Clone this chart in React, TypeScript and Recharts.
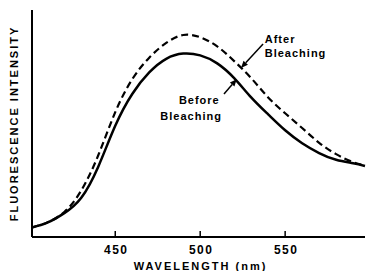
import React from 'react';
import { LineChart, Line, XAxis, YAxis, ReferenceLine, ReferenceDot, Label } from 'recharts';

// wavelength (nm) and relative fluorescence intensity
const wavelengths = [401, 410, 420, 430, 440, 450, 460, 470, 480, 490, 500, 510, 520, 530, 540, 550, 560, 570, 580, 590, 597];
const beforeBleaching = [4.2, 6.3, 10.5, 17.3, 31, 49, 63, 72.5, 78.5, 80.8, 80, 76.5, 70, 61.5, 54, 47, 41.3, 37, 34, 32.5, 31.3];
const afterBleaching = [4.2, 6.4, 11, 20.5, 36, 55, 69.5, 79, 85.5, 89, 88, 84, 77.5, 70, 61.5, 54.5, 48, 41.5, 36.5, 33, 31.5];
const xTicks = [450, 500, 550];

const FONT = '"Liberation Sans", Arial, sans-serif';

const data = wavelengths.map((w, i) => ({
  wavelength: w,
  before: beforeBleaching[i],
  after: afterBleaching[i]
}));

const Arrow = (props: any) => {
  const { x1, y1, x2, y2 } = props;
  const ang = Math.atan2(y2 - y1, x2 - x1);
  const len = 7;
  const w = 3;
  const bx = x2 - len * Math.cos(ang);
  const by = y2 - len * Math.sin(ang);
  const px = -Math.sin(ang) * w;
  const py = Math.cos(ang) * w;
  return (
    <g>
      <line x1={x1} y1={y1} x2={bx} y2={by} stroke="#000" strokeWidth={1.5} />
      <polygon points={`${x2},${y2} ${bx + px},${by + py} ${bx - px},${by - py}`} fill="#000" />
    </g>
  );
};

const noteText = (value: string, anchor: 'start' | 'end') => (props: any) => (
  <text
    x={props.cx}
    y={props.cy}
    textAnchor={anchor}
    fontFamily={FONT}
    fontWeight="bold"
    fontSize={11}
    letterSpacing={1}
    fill="#000"
  >
    {value}
  </text>
);

const XTick = (props: any) => {
  const { x, y, payload } = props;
  return (
    <text
      x={x + 1}
      y={y + 9}
      textAnchor="middle"
      fontFamily={FONT}
      fontWeight="bold"
      fontSize={12}
      letterSpacing={1.5}
      fill="#000"
    >
      {payload.value}
    </text>
  );
};

const YTitle = (props: any) => {
  const vb = props.viewBox;
  const cx = vb.x + vb.width / 2 - 2;
  const cy = vb.y + vb.height / 2;
  return (
    <text
      x={cx}
      y={cy}
      transform={`rotate(-90, ${cx}, ${cy})`}
      textAnchor="middle"
      dominantBaseline="central"
      fontFamily={FONT}
      fontWeight="bold"
      fontSize={11}
      letterSpacing={2}
      fill="#000"
    >
      FLUORESCENCE INTENSITY
    </text>
  );
};

const XTitle = (props: any) => {
  const vb = props.viewBox;
  return (
    <text
      x={vb.x + vb.width / 2 + 2}
      y={vb.y + vb.height - 1}
      textAnchor="middle"
      fontFamily={FONT}
      fontWeight="bold"
      fontSize={11}
      letterSpacing={2}
      fill="#000"
    >
      WAVELENGTH (nm)
    </text>
  );
};

const App = () => {
  return (
    <div style={{ position: 'absolute', left: 0, top: 0, background: '#fff' }}>
      <LineChart width={366} height={271} data={data} margin={{ top: 10, right: 1, left: 0, bottom: 0 }}>
        <XAxis
          dataKey="wavelength"
          type="number"
          domain={[401, 597]}
          ticks={xTicks}
          height={34}
          tickSize={-6}
          tickMargin={14}
          axisLine={{ stroke: '#000', strokeWidth: 2 }}
          tickLine={{ stroke: '#000', strokeWidth: 1.5 }}
          tick={<XTick />}
        >
          <Label content={<XTitle />} />
        </XAxis>
        <XAxis
          xAxisId="top"
          orientation="top"
          type="number"
          domain={[401, 597]}
          ticks={xTicks}
          height={0}
          tickSize={-6}
          tickFormatter={() => ''}
          axisLine={{ stroke: '#000', strokeWidth: 1.5 }}
          tickLine={{ stroke: '#000', strokeWidth: 1.5 }}
        />
        <YAxis
          type="number"
          domain={[0, 100]}
          width={32}
          tick={false}
          axisLine={{ stroke: '#000', strokeWidth: 2 }}
        >
          <Label content={<YTitle />} />
        </YAxis>
        <YAxis
          yAxisId="right"
          orientation="right"
          type="number"
          domain={[0, 100]}
          width={0}
          tick={false}
          axisLine={{ stroke: '#000', strokeWidth: 1.5 }}
        />
        <Line
          type="natural"
          dataKey="after"
          stroke="#000"
          strokeWidth={2.2}
          strokeDasharray="7 4"
          dot={false}
          isAnimationActive={false}
        />
        <Line
          type="natural"
          dataKey="before"
          stroke="#000"
          strokeWidth={2.5}
          dot={false}
          isAnimationActive={false}
        />
        <ReferenceLine segment={[{ x: 537, y: 85 }, { x: 524, y: 74.5 }]} shape={Arrow} />
        <ReferenceLine segment={[{ x: 514, y: 63 }, { x: 521.5, y: 69.5 }]} shape={Arrow} />
        <ReferenceDot x={538} y={85.5} r={1} shape={noteText('After', 'start')} />
        <ReferenceDot x={538} y={79.3} r={1} shape={noteText('Bleaching', 'start')} />
        <ReferenceDot x={511.5} y={58.6} r={1} shape={noteText('Before', 'end')} />
        <ReferenceDot x={512.8} y={51.5} r={1} shape={noteText('Bleaching', 'end')} />
      </LineChart>
    </div>
  );
};

export default App;
